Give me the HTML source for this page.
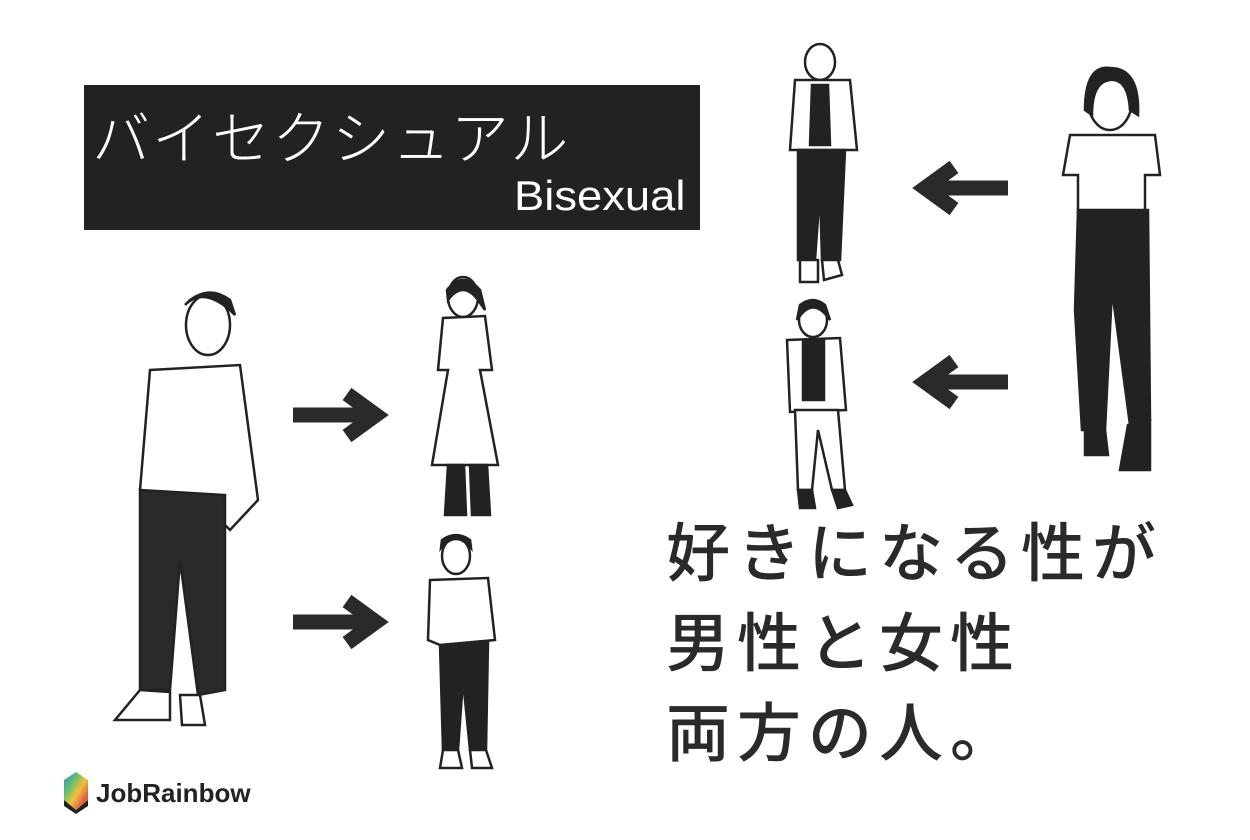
<!DOCTYPE html>
<html><head><meta charset="utf-8"><style>
body{margin:0;width:1250px;height:840px;background:#fff;position:relative;overflow:hidden;font-family:"Liberation Sans","Noto Sans CJK JP",sans-serif}
.box{position:absolute;left:84px;top:85px;width:616px;height:145px;background:#222}
.t1{position:absolute;left:92px;top:92px;color:#fff;font-size:58px;letter-spacing:2px;font-weight:300}
.t2{position:absolute;left:514px;top:172px;color:#fff;font-size:42px;transform-origin:0 0;transform:scaleX(1.08)}
.jp{position:absolute;left:666px;color:#2a2a2a;font-size:64px;letter-spacing:7px;font-weight:500;line-height:1}
svg{position:absolute;left:0;top:0}
.logo{position:absolute;left:96px;top:778px;font-size:26px;font-weight:bold;color:#222}
</style></head><body>
<div class="box"></div>
<div class="t1">バイセクシュアル</div>
<div class="t2">Bisexual</div>
<div class="jp" style="top:522px">好きになる性が</div>
<div class="jp" style="top:612px">男性と女性</div>
<div class="jp" style="top:702px">両方の人。</div>
<div class="logo">JobRainbow</div>
<svg width="1250" height="840">
<defs><linearGradient id="g" x1="0" y1="0" x2="1" y2="1"><stop offset="0" stop-color="#4a7fd0"/><stop offset=".3" stop-color="#5cc070"/><stop offset=".55" stop-color="#f0c040"/><stop offset=".8" stop-color="#e06040"/><stop offset="1" stop-color="#c04080"/></linearGradient></defs>
<polygon points="76,772 88,780 88,800 76,810 64,800 64,780" fill="url(#g)"/>
<polygon points="64,800 76,810 88,800 88,806 76,814 64,806" fill="#222"/>
<g stroke="#2a2a2a" stroke-width="15" fill="none" stroke-linecap="butt">
<path d="M293 415 H376 M347 394 L376 415 L347 436"/>
<path d="M293 622 H376 M347 601 L376 622 L347 643"/>
<path d="M1008 188 H925 M954 167 L925 188 L954 209"/>
<path d="M1008 382 H925 M954 361 L925 382 L954 403"/>
</g>
<g stroke="#222" stroke-width="2.5" fill="#fff">
<ellipse cx="208" cy="325" rx="22" ry="30"/>
<path d="M185 305 Q205 285 235 315 L230 300 Q210 285 190 300Z" fill="#222"/>
<path d="M150 370 L240 365 L258 500 L230 530 L200 500 L170 510 L140 490Z"/>
<path d="M140 490 L225 495 L225 690 L198 695 L180 560 L170 690 L140 690Z" fill="#2a2a2a"/>
<path d="M140 690 L115 720 L170 720 L170 692Z"/><path d="M180 695 L182 725 L205 725 L200 695Z"/>
<ellipse cx="463" cy="297" rx="15" ry="20"/>
<path d="M447 290 Q463 270 480 290 L485 310 L478 300 Q463 280 448 300Z" fill="#222"/>
<path d="M443 318 L485 316 L492 370 L480 370 L498 465 L432 465 L448 370 L438 370Z"/>
<path d="M448 465 L445 515 L466 515 L464 465Z M470 465 L472 515 L490 515 L487 465Z" fill="#222"/>
<ellipse cx="456" cy="556" rx="14" ry="18"/>
<path d="M441 548 Q456 530 471 548 L470 540 Q456 530 442 540Z" fill="#222"/>
<path d="M430 580 L488 578 L495 640 L440 645 L428 640Z"/>
<path d="M440 645 L488 642 L486 750 L470 750 L463 680 L458 750 L443 750Z" fill="#222"/>
<path d="M443 750 L440 768 L462 768 L458 750Z M470 750 L472 768 L492 768 L486 750Z"/>
<ellipse cx="820" cy="62" rx="15" ry="18"/>
<path d="M795 80 L850 80 L857 150 L790 150Z"/>
<path d="M812 85 L828 85 L830 145 L810 145Z" fill="#222"/>
<path d="M798 150 L845 150 L840 260 L822 260 L820 190 L815 260 L798 260Z" fill="#222"/>
<path d="M800 260 L800 282 L818 282 L818 260Z M822 260 L824 280 L842 275 L838 260Z"/>
<ellipse cx="813" cy="320" rx="14" ry="17"/>
<path d="M797 320 Q813 295 830 320 L825 305 Q813 295 800 305Z" fill="#222"/>
<path d="M787 340 L840 338 L846 410 L790 412Z"/>
<path d="M803 340 L824 340 L824 400 L803 400Z" fill="#222"/>
<path d="M795 410 L838 410 L845 490 L832 490 L818 430 L812 490 L798 490Z"/>
<path d="M798 490 L800 508 L815 508 L812 490Z M832 490 L838 508 L852 505 L845 490Z" fill="#222"/>
<ellipse cx="1110" cy="100" rx="22" ry="30"/>
<path d="M1085 110 Q1085 65 1110 68 Q1140 68 1138 115 L1130 110 Q1128 78 1110 80 Q1092 82 1092 115Z" fill="#222"/>
<path d="M1070 135 L1155 135 L1160 175 L1145 175 L1145 215 L1078 215 L1078 175 L1063 175Z"/>
<path d="M1078 210 L1148 210 L1150 420 L1130 425 L1112 290 L1105 430 L1082 430 L1075 310Z" fill="#222"/>
<path d="M1085 430 L1085 455 L1108 455 L1105 430Z M1128 425 L1120 470 L1150 470 L1150 420Z" fill="#222"/>
</g>
</svg>
</body></html>
